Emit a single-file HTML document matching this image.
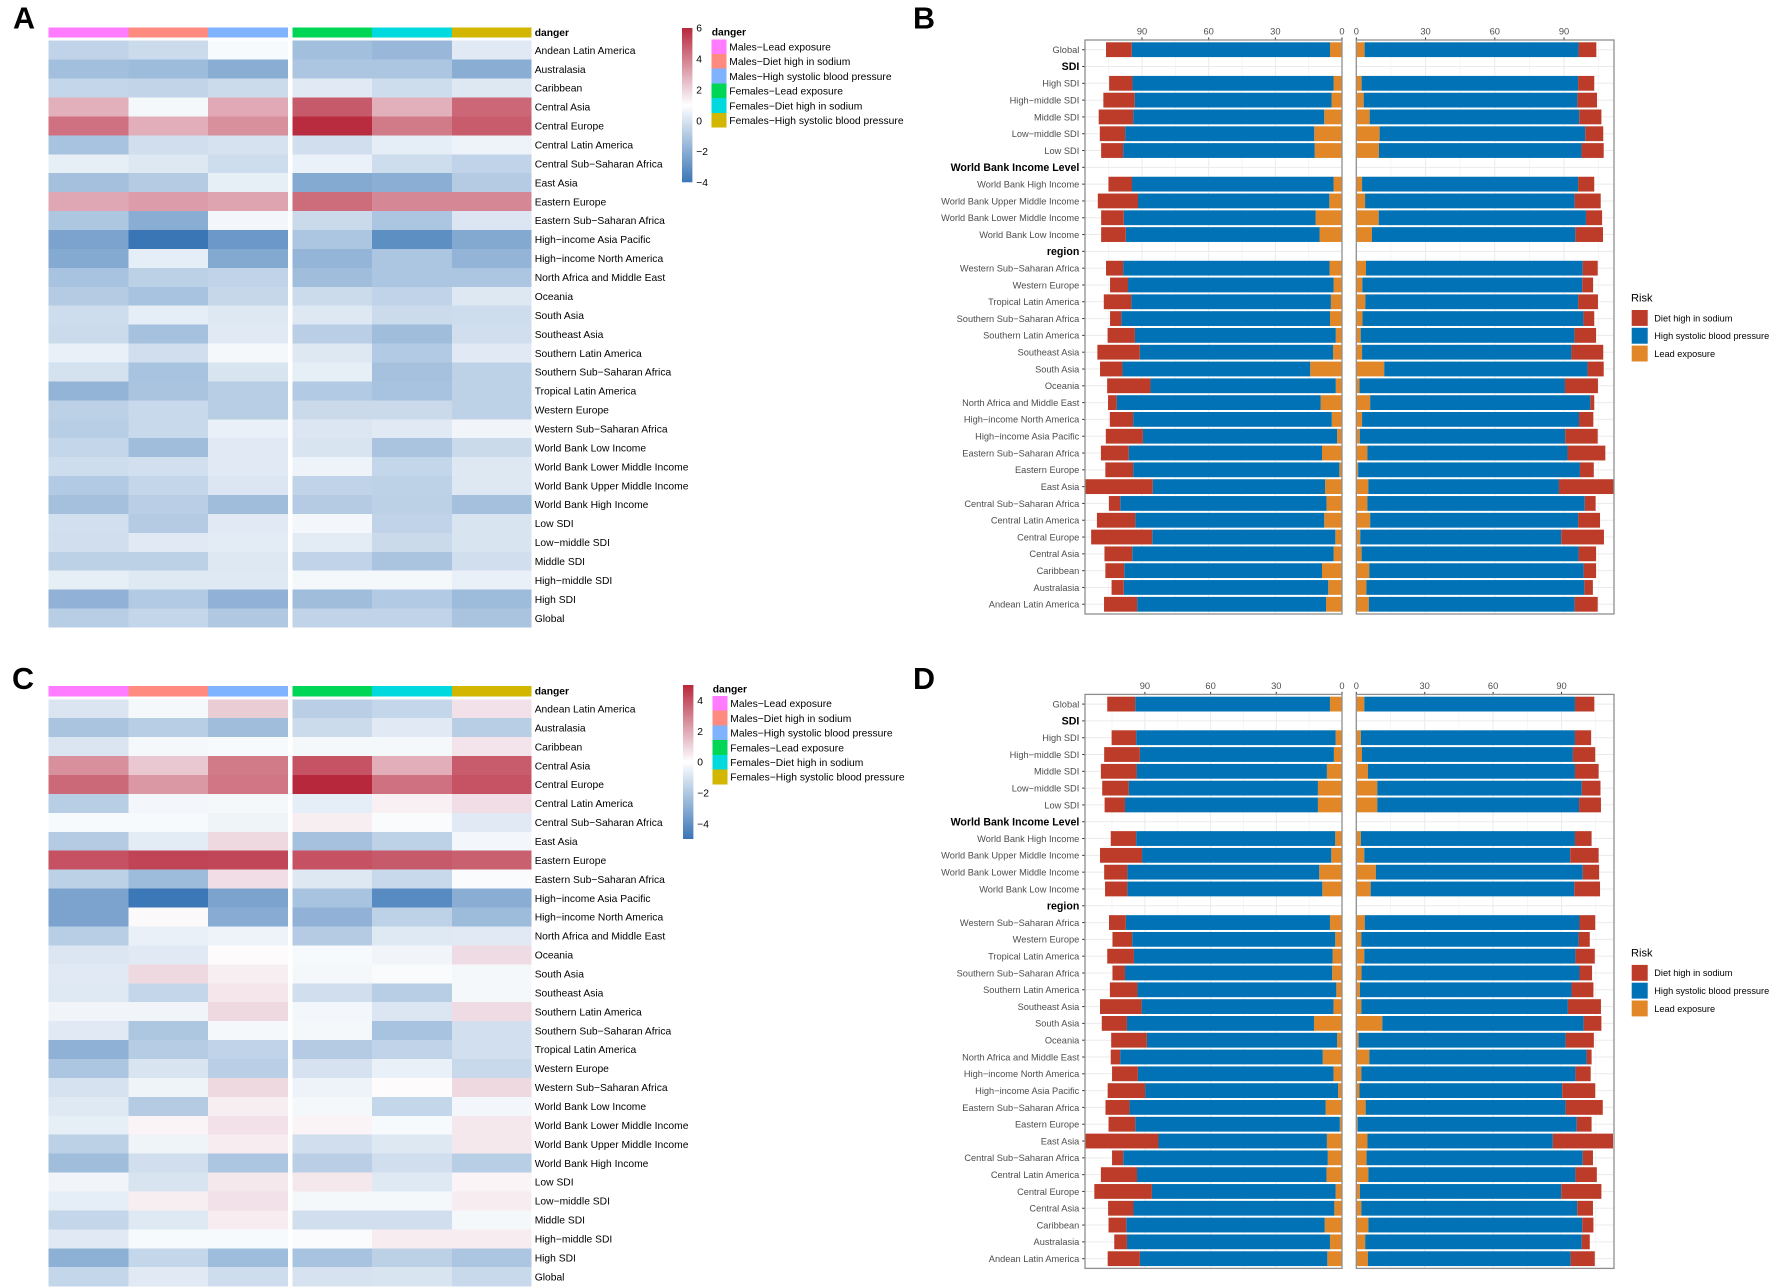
<!DOCTYPE html>
<html lang="en">
<head>
<meta charset="utf-8">
<title>Risk factor heatmaps and stacked bars</title>
<style>
html,body{margin:0;padding:0;background:#fff;width:1772px;height:1288px;overflow:hidden}
svg{display:block;font-family:"Liberation Sans",Arial,sans-serif}
</style>
</head>
<body>
<svg id="figure" xmlns="http://www.w3.org/2000/svg" width="1772" height="1288" viewBox="0 0 1772 1288">
<defs>
<linearGradient id="colorbar-gradient" x1="0" y1="1" x2="0" y2="0">
<stop offset="0" stop-color="rgb(58,118,182)"/>
<stop offset="0.5" stop-color="rgb(255,255,255)"/>
<stop offset="0.585" stop-color="rgb(239,219,227)"/>
<stop offset="1" stop-color="rgb(184,40,60)"/>
</linearGradient>
</defs>
</svg>
<script>
/* ---------- heatmap data ---------- */
const heatRows = ["Andean Latin America","Australasia","Caribbean","Central Asia","Central Europe","Central Latin America","Central Sub\u2212Saharan Africa","East Asia","Eastern Europe","Eastern Sub\u2212Saharan Africa","High\u2212income Asia Pacific","High\u2212income North America","North Africa and Middle East","Oceania","South Asia","Southeast Asia","Southern Latin America","Southern Sub\u2212Saharan Africa","Tropical Latin America","Western Europe","Western Sub\u2212Saharan Africa","World Bank Low Income","World Bank Lower Middle Income","World Bank Upper Middle Income","World Bank High Income","Low SDI","Low\u2212middle SDI","Middle SDI","High\u2212middle SDI","High SDI","Global"];
const dangerLabels = ["Males\u2212Lead exposure","Males\u2212Diet high in sodium","Males\u2212High systolic blood pressure","Females\u2212Lead exposure","Females\u2212Diet high in sodium","Females\u2212High systolic blood pressure"];
const dangerColors = ["#ff7bff","#ff8b80","#7fb2ff","#00d655","#00dadf","#d2b600"];
const colorbarTicksA = [6,4,2,0,-2,-4];
const colorbarTicksC = [4,2,0,-2,-4];

const dangerA = [
[-.6,-.3,.8,-1.35,-1.6,.25],
[-1.35,-1.5,-2,-1.1,-1.1,-2],
[-.5,-.55,-.3,.25,-.25,.15],
[2.85,.75,3,4.85,2.85,4.55],
[4.3,2.9,3.6,5.9,4.1,4.8],
[-1.2,-.2,-.05,-.2,.35,.55],
[.4,.15,-.25,.5,-.25,-.6],
[-1.3,-.9,.4,-2.1,-1.95,-.9],
[3.05,3.3,3.1,4.4,3.8,3.8],
[-1.05,-2,.7,-.35,-1.1,.1],
[-2.35,-4,-2.75,-1.1,-3.1,-2.15],
[-2.1,.35,-2.15,-1.7,-1.1,-1.75],
[-1.2,-.7,-.6,-1.4,-1.1,-1.1],
[-.9,-1.2,-.45,-.3,-.6,.15],
[-.25,.35,.15,.15,-.3,-.25],
[-.3,-1.25,.25,-.75,-1.4,-.2],
[.45,-.2,.75,.15,-.95,.25],
[-.1,-1.2,0,.4,-1.25,-.65],
[-1.75,-1.15,-.8,-.95,-1.2,-.65],
[-.7,-.4,-.8,-.35,-.35,-.65],
[-.8,-.4,.45,.1,.25,.65],
[-.5,-1.4,.25,0,-1.15,-.35],
[-.25,-.15,.25,.55,-.5,.15],
[-.95,-.5,.1,-.6,-.65,.15],
[-1.3,-.75,-1.4,-.9,-.7,-1.3],
[-.15,-.9,.25,.7,-.6,0],
[-.2,.25,.3,.3,-.35,0],
[-.7,-.7,.15,-.6,-1.15,-.2],
[.4,.2,.2,.75,.75,.45],
[-1.8,-.95,-1.8,-1.4,-.95,-1.5],
[-.8,-.5,-1,-.6,-.6,-1.15]
];

const dangerC = [
[-.95,-.25,1.2,-1.75,-1.5,.7],
[-2.15,-1.8,-2.4,-1.3,-.75,-1.8],
[-.95,-.25,-.2,-.25,-.25,.65],
[2.6,1.3,3.1,4,1.9,3.8],
[3.5,2.4,3.2,5,3.3,4],
[-1.8,-.3,-.25,-.65,.35,.8],
[-.2,-.2,-.4,.4,-.15,-.75],
[-1.9,-.7,.9,-2.25,-1.65,-.3],
[4.05,4.35,4.3,4.05,3.85,3.7],
[-1.7,-2.5,.8,-.85,-1.4,-.15],
[-3.35,-4.95,-3.35,-2.2,-4.25,-3],
[-3.35,.15,-3.05,-2.8,-1.65,-2.5],
[-1.8,-.55,-.45,-1.9,-.8,-.75],
[-.9,-.75,.1,-.2,-.35,.85],
[-.75,.9,.4,-.25,-.15,-.25],
[-.8,-1.5,.6,-1.2,-1.8,-.25],
[-.35,-.35,.9,-.3,-.9,.85],
[-.75,-2.05,-.25,-.25,-2.2,-1.15],
[-2.85,-1.85,-1.6,-1.9,-1.6,-1.15],
[-2.1,-1,-1.75,-1.05,-.55,-1.4],
[-1.05,-.4,.9,-.45,.1,.9],
[-.8,-1.9,.4,-.25,-1.5,-.3],
[-.6,.25,.7,.25,-.2,.55],
[-1.7,-.4,.45,-1.2,-.85,.55],
[-2.4,-1.2,-2.1,-1.75,-1.2,-1.8],
[-.35,-1,.55,.55,-.8,.25],
[-.65,.4,.7,-.25,-.25,.45],
[-1.5,-.8,.45,-1.2,-1.2,-.25],
[-.75,-.2,-.2,-.15,.45,.45],
[-2.9,-1.5,-2.45,-2.2,-1.7,-2.1],
[-1.5,-.75,-1.25,-1.05,-1,-1.4]
];

/* ---------- bar chart data ---------- */
const barCategories = ["Global","SDI","High SDI","High\u2212middle SDI","Middle SDI","Low\u2212middle SDI","Low SDI","World Bank Income Level","World Bank High Income","World Bank Upper Middle Income","World Bank Lower Middle Income","World Bank Low Income","region","Western Sub\u2212Saharan Africa","Western Europe","Tropical Latin America","Southern Sub\u2212Saharan Africa","Southern Latin America","Southeast Asia","South Asia","Oceania","North Africa and Middle East","High\u2212income North America","High\u2212income Asia Pacific","Eastern Sub\u2212Saharan Africa","Eastern Europe","East Asia","Central Sub\u2212Saharan Africa","Central Latin America","Central Europe","Central Asia","Caribbean","Australasia","Andean Latin America"];
const barHeaders = ["SDI","World Bank Income Level","region"];
const xTickValues = [0,30,60,90];
const xMinorValues = [15,45,75,105];
const riskLabels = ["Diet high in sodium","High systolic blood pressure","Lead exposure"];
const riskColors = ["#BC3C29","#0072B5","#E18727"];

const bLeftLead = [5.4,3.8,4.7,8.0,12.5,12.3,3.8,5.7,11.9,10.1,5.6,3.8,5.0,5.4,2.8,4.0,14.3,2.8,9.6,4.6,2.2,9.0,1.2,7.6,7.0,8.0,3.0,3.8,9.0,6.2,7.2];
const bLeftSbp = [89.2,90.5,88.6,86.0,85.1,86.2,90.7,86.1,86.3,87.2,92.9,92.5,89.8,93.9,90.4,87.0,84.5,83.4,91.8,89.4,87.4,87.0,92.8,77.6,92.8,85.0,82.4,90.6,89.0,92.0,85.0];
const bLeftSodium = [11.6,10.5,14.1,15.5,11.4,9.9,10.6,18.1,10.2,11.1,7.7,8.1,12.4,5.1,12.3,19.1,10.1,19.5,3.9,10.5,16.7,12.5,12.5,30.4,5.1,17.3,27.5,12.5,8.5,5.5,14.9];

const bRightLead = [3.6,2.3,3.2,5.8,10.1,9.8,2.5,3.8,9.7,6.8,4.2,2.6,3.9,2.7,1.9,2.5,12.1,1.4,6.0,2.5,1.5,4.8,0.8,5.2,4.8,6.0,1.7,2.3,5.6,4.4,5.4];
const bRightSbp = [92.7,93.8,92.6,90.8,89.1,87.8,93.6,90.8,89.8,88.1,93.9,95.3,92.2,95.7,92.6,90.7,88.1,89.0,95.4,94.0,89.0,86.7,96.1,82.6,94.2,90.1,87.1,94.0,92.9,94.4,89.2];
const bRightSodium = [7.7,7.0,8.5,9.6,7.8,9.6,7.0,11.3,7.0,12.0,6.5,4.7,8.6,4.7,9.4,13.8,7.0,14.3,1.7,6.2,14.1,16.4,6.0,23.8,4.7,9.5,18.5,7.6,5.4,3.7,10.0];

const dLeftLead = [5.5,2.9,3.7,6.9,11.0,11.0,3.1,4.9,10.4,9.0,5.5,3.1,4.3,4.5,2.6,3.9,12.8,2.2,8.8,3.9,1.8,7.5,1.0,6.9,6.5,7.1,2.9,3.5,7.9,5.5,6.7];
const dLeftSbp = [88.9,91.1,88.6,86.9,86.4,88.1,90.9,86.4,87.6,89.0,93.2,92.7,90.7,94.6,90.8,87.6,85.4,86.9,92.5,89.3,88.1,89.5,93.4,76.9,93.4,86.5,83.9,91.7,90.6,92.7,85.6];
const dLeftSodium = [12.8,11.2,16.3,16.3,12.1,9.3,11.6,19.2,10.6,10.2,7.7,9.0,12.2,5.7,12.6,19.0,11.5,16.3,4.3,11.8,17.1,11.0,12.2,33.4,5.1,16.5,26.3,11.6,8.1,5.8,14.7];

const dRightLead = [3.5,2.0,2.5,5.1,9.2,9.2,2.0,3.5,8.6,6.3,3.7,2.2,3.5,2.3,1.6,2.2,11.4,1.0,5.7,2.2,1.4,4.1,0.6,4.9,4.5,5.3,1.6,2.2,5.3,3.9,5.1];
const dRightSbp = [92.4,93.9,92.5,90.8,89.7,88.5,93.9,90.3,90.7,89.3,94.2,95.3,92.6,95.6,92.8,90.6,88.3,90.8,95.3,93.9,88.9,87.7,96.1,81.3,94.8,90.8,88.3,94.7,93.8,95.0,88.9];
const dRightSodium = [8.5,7.1,9.8,10.4,8.2,9.6,7.3,12.5,7.2,11.3,6.9,4.9,8.5,5.5,9.6,14.5,7.8,12.4,2.2,6.7,14.5,16.3,6.5,26.4,4.5,9.4,17.6,6.9,4.9,3.5,10.6];

/* ---------- helpers ---------- */
const NS = "http://www.w3.org/2000/svg";
const figure = document.getElementById("figure");

function mk(tag, attrs, parent) {
  const el = document.createElementNS(NS, tag);
  for (const k in attrs) el.setAttribute(k, attrs[k]);
  parent.appendChild(el);
  return el;
}

function label(parent, str, x, cy, size, opts) {
  const o = opts || {};
  const el = mk("text", {
    x: x,
    y: cy + size * 0.36,
    "font-size": size,
    fill: o.fill || "#000",
    "font-weight": o.weight || "normal",
    "text-anchor": o.anchor || "start"
  }, parent);
  el.textContent = str;
  return el;
}

/* ---------- panel letters ---------- */
function drawLetter(str, x, y) {
  const el = mk("text", {x: x, y: y, "font-size": 30.5, "font-weight": "bold", fill: "#000"}, figure);
  el.textContent = str;
  
  
}

/* ---------- heatmaps ---------- */
function colX(i) {
  return i < 3 ? 48.6 + i * 79.77 : 292.5 + (i - 3) * 79.63;
}
const COL_W = 79.7;
const ROW_H = 18.93;

function mix(a, b, f) {
  return a.map(function (e, i) { return Math.round(e + (b[i] - e) * f); });
}

function heatColor(v, vMin, vMax) {
  const mid = (vMin + vMax) / 2;
  const t = Math.max(-1, Math.min(1, (v - mid) / ((vMax - vMin) / 2)));
  const white = [255,255,255];
  const paleRed = [239,219,227];
  let c;
  if (t < 0) {
    c = mix(white, [58,118,182], -t);
  } else if (t < 0.17) {
    c = mix(white, paleRed, t / 0.17);
  } else {
    c = mix(paleRed, [184,40,60], (t - 0.17) / 0.83);
  }
  return "rgb(" + c.join(",") + ")";
}

function drawHeatmap(cfg, matrix, ticks) {
  const g = mk("g", {}, figure);
  
  

  dangerColors.forEach(function (color, i) {
    const r = mk("rect", {x: colX(i), y: cfg.annotTop, width: COL_W, height: 10.4, fill: color, "shape-rendering": "crispEdges"}, g);
    
    
  });
  const annLabel = label(g, "danger", 534.7, cfg.annotTop + 5, 10.3, {weight: "bold"});
  
  

  matrix.forEach(function (row, r) {
    const y = cfg.rowsTop + r * ROW_H;
    row.forEach(function (value, c) {
      const cell = mk("rect", {x: colX(c), y: y, width: COL_W + 0.2, height: ROW_H + 0.2, fill: heatColor(value, cfg.vMin, cfg.vMax), "shape-rendering": "crispEdges"}, g);
      
      
    });
    const rowLabel = label(g, heatRows[r], 534.7, y + ROW_H / 2, 10.3);
    
    
  });

  /* colour bar */
  const bar = mk("rect", {x: cfg.barX, y: cfg.barTop, width: 10.4, height: cfg.barBottom - cfg.barTop, fill: "url(#colorbar-gradient)"}, g);
  
  
  const barScale = function (v) {
    return cfg.barBottom - (v - cfg.vMin) / (cfg.vMax - cfg.vMin) * (cfg.barBottom - cfg.barTop);
  };
  ticks.forEach(function (v) {
    const str = v < 0 ? "\u2212" + Math.abs(v) : String(v);
    const t = label(g, str, cfg.barX + 14.2, barScale(v), 10.3);
    
    
  });

  /* legend */
  const lt = label(g, "danger", cfg.legendX, cfg.legendTitleY, 10.3, {weight: "bold"});
  
  
  dangerLabels.forEach(function (name, i) {
    const y = cfg.legendTop + i * 14.72;
    const sw = mk("rect", {x: cfg.legendX, y: y, width: 14.6, height: 14.8, fill: dangerColors[i], "shape-rendering": "crispEdges"}, g);
    
    
    const tx = label(g, name, cfg.legendX + 17.6, y + 7.4, 10.3);
    
    
  });
}

/* ---------- stacked bars ---------- */
const BAR_ROW = 16.805;
const BAR_H = 14.8;

function drawBarPanel(cfg, lead, sbp, sodium, clipId) {
  const g = mk("g", {}, figure);
  
  

  const xScale = function (v) { return cfg.zero + cfg.dir * v * cfg.unit; };
  const yScale = function (i) { return cfg.top + 9.7 + i * BAR_ROW; };

  const clip = mk("clipPath", {id: clipId}, g);
  mk("rect", {x: cfg.left, y: cfg.top, width: cfg.right - cfg.left, height: cfg.bottom - cfg.top}, clip);

  xMinorValues.forEach(function (v) {
    const ln = mk("line", {x1: xScale(v), x2: xScale(v), y1: cfg.top, y2: cfg.bottom, stroke: "#f3f3f3", "stroke-width": 0.8}, g);
    
    
  });
  xTickValues.forEach(function (v) {
    const ln = mk("line", {x1: xScale(v), x2: xScale(v), y1: cfg.top, y2: cfg.bottom, stroke: "#ebebeb", "stroke-width": 1}, g);
    
    
  });
  barCategories.forEach(function (name, i) {
    const ln = mk("line", {x1: cfg.left, x2: cfg.right, y1: yScale(i), y2: yScale(i), stroke: "#ebebeb", "stroke-width": 1}, g);
    
    
  });

  const bars = mk("g", {"clip-path": "url(#" + clipId + ")"}, g);
  
  

  function drawSeg(from, to, cy, color, name) {
    const a = xScale(from), b = xScale(to);
    const seg = mk("rect", {x: Math.min(a, b), y: cy - BAR_H / 2, width: Math.abs(b - a), height: BAR_H, fill: color}, bars);
    
    
  }

  let dataIndex = 0;
  barCategories.forEach(function (name, i) {
    const cy = yScale(i);
    const isHeader = barHeaders.indexOf(name) >= 0;
    if (!isHeader) {
      const l = lead[dataIndex], s = sbp[dataIndex], n = sodium[dataIndex];
      drawSeg(0, l, cy, riskColors[2], "bar-lead-exposure");
      drawSeg(l, l + s, cy, riskColors[1], "bar-high-systolic-blood-pressure");
      drawSeg(l + s, l + s + n, cy, riskColors[0], "bar-diet-high-in-sodium");
      dataIndex++;
    }
    if (cfg.showLabels) {
      const tick = mk("line", {x1: cfg.left - 2.8, x2: cfg.left, y1: cy, y2: cy, stroke: "#333", "stroke-width": 1}, g);
      
      
      const lab = isHeader
        ? label(g, name, cfg.left - 5.7, cy - 0.3, 10.6, {anchor: "end", weight: "bold"})
        : label(g, name, cfg.left - 5.7, cy, 9.25, {anchor: "end", fill: "#4d4d4d"});
      
      
    }
  });

  xTickValues.forEach(function (v) {
    const tick = mk("line", {x1: xScale(v), x2: xScale(v), y1: cfg.top - 2.5, y2: cfg.top, stroke: "#333", "stroke-width": 1}, g);
    
    
    const tl = label(g, String(v), xScale(v), cfg.top - 8.7, 9.3, {anchor: "middle", fill: "#4d4d4d"});
    
    
  });

  const border = mk("rect", {x: cfg.left, y: cfg.top, width: cfg.right - cfg.left, height: cfg.bottom - cfg.top, fill: "none", stroke: "#8f8f8f", "stroke-width": 1.3}, g);
  
  
}

function drawRiskLegend(offset) {
  const g = mk("g", {}, figure);
  
  
  const title = label(g, "Risk", 1631, 297.7 + offset, 11.1);
  
  
  riskLabels.forEach(function (name, i) {
    const y = 310 + offset + i * 17.8;
    const sw = mk("rect", {x: 1631.7, y: y, width: 16, height: 15.9, fill: riskColors[i]}, g);
    
    
    const tx = label(g, name, 1654.3, y + 8, 9.2);
    
    
  });
}

/* ---------- compose ---------- */
drawLetter("A", 13, 28.7);
drawLetter("B", 913, 28.4);
drawLetter("C", 12, 689);
drawLetter("D", 913, 689);

drawHeatmap({name: "heatmap-a", annotTop: 27.3, rowsTop: 40.7, vMin: -4, vMax: 6, barX: 682, barTop: 28, barBottom: 182.3, legendX: 711.7, legendTitleY: 32, legendTop: 39.3}, dangerA, colorbarTicksA);
drawHeatmap({name: "heatmap-c", annotTop: 686, rowsTop: 699.3, vMin: -5, vMax: 5, barX: 683, barTop: 685, barBottom: 839, legendX: 712.7, legendTitleY: 689, legendTop: 696}, dangerC, colorbarTicksC);

drawBarPanel({name: "bars-b-left", zero: 1342, dir: -1, unit: 2.222, left: 1085, right: 1342, top: 40, bottom: 614, showLabels: true}, bLeftLead, bLeftSbp, bLeftSodium, "clip-b-left");
drawBarPanel({name: "bars-b-right", zero: 1356.3, dir: 1, unit: 2.308, left: 1356.3, right: 1614, top: 40, bottom: 614, showLabels: false}, bRightLead, bRightSbp, bRightSodium, "clip-b-right");
drawBarPanel({name: "bars-d-left", zero: 1342, dir: -1, unit: 2.19, left: 1085, right: 1342, top: 694.4, bottom: 1268.4, showLabels: true}, dLeftLead, dLeftSbp, dLeftSodium, "clip-d-left");
drawBarPanel({name: "bars-d-right", zero: 1356.3, dir: 1, unit: 2.28, left: 1356.3, right: 1614, top: 694.4, bottom: 1268.4, showLabels: false}, dRightLead, dRightSbp, dRightSodium, "clip-d-right");

drawRiskLegend(0);
drawRiskLegend(654.9);
</script>
</body>
</html>
